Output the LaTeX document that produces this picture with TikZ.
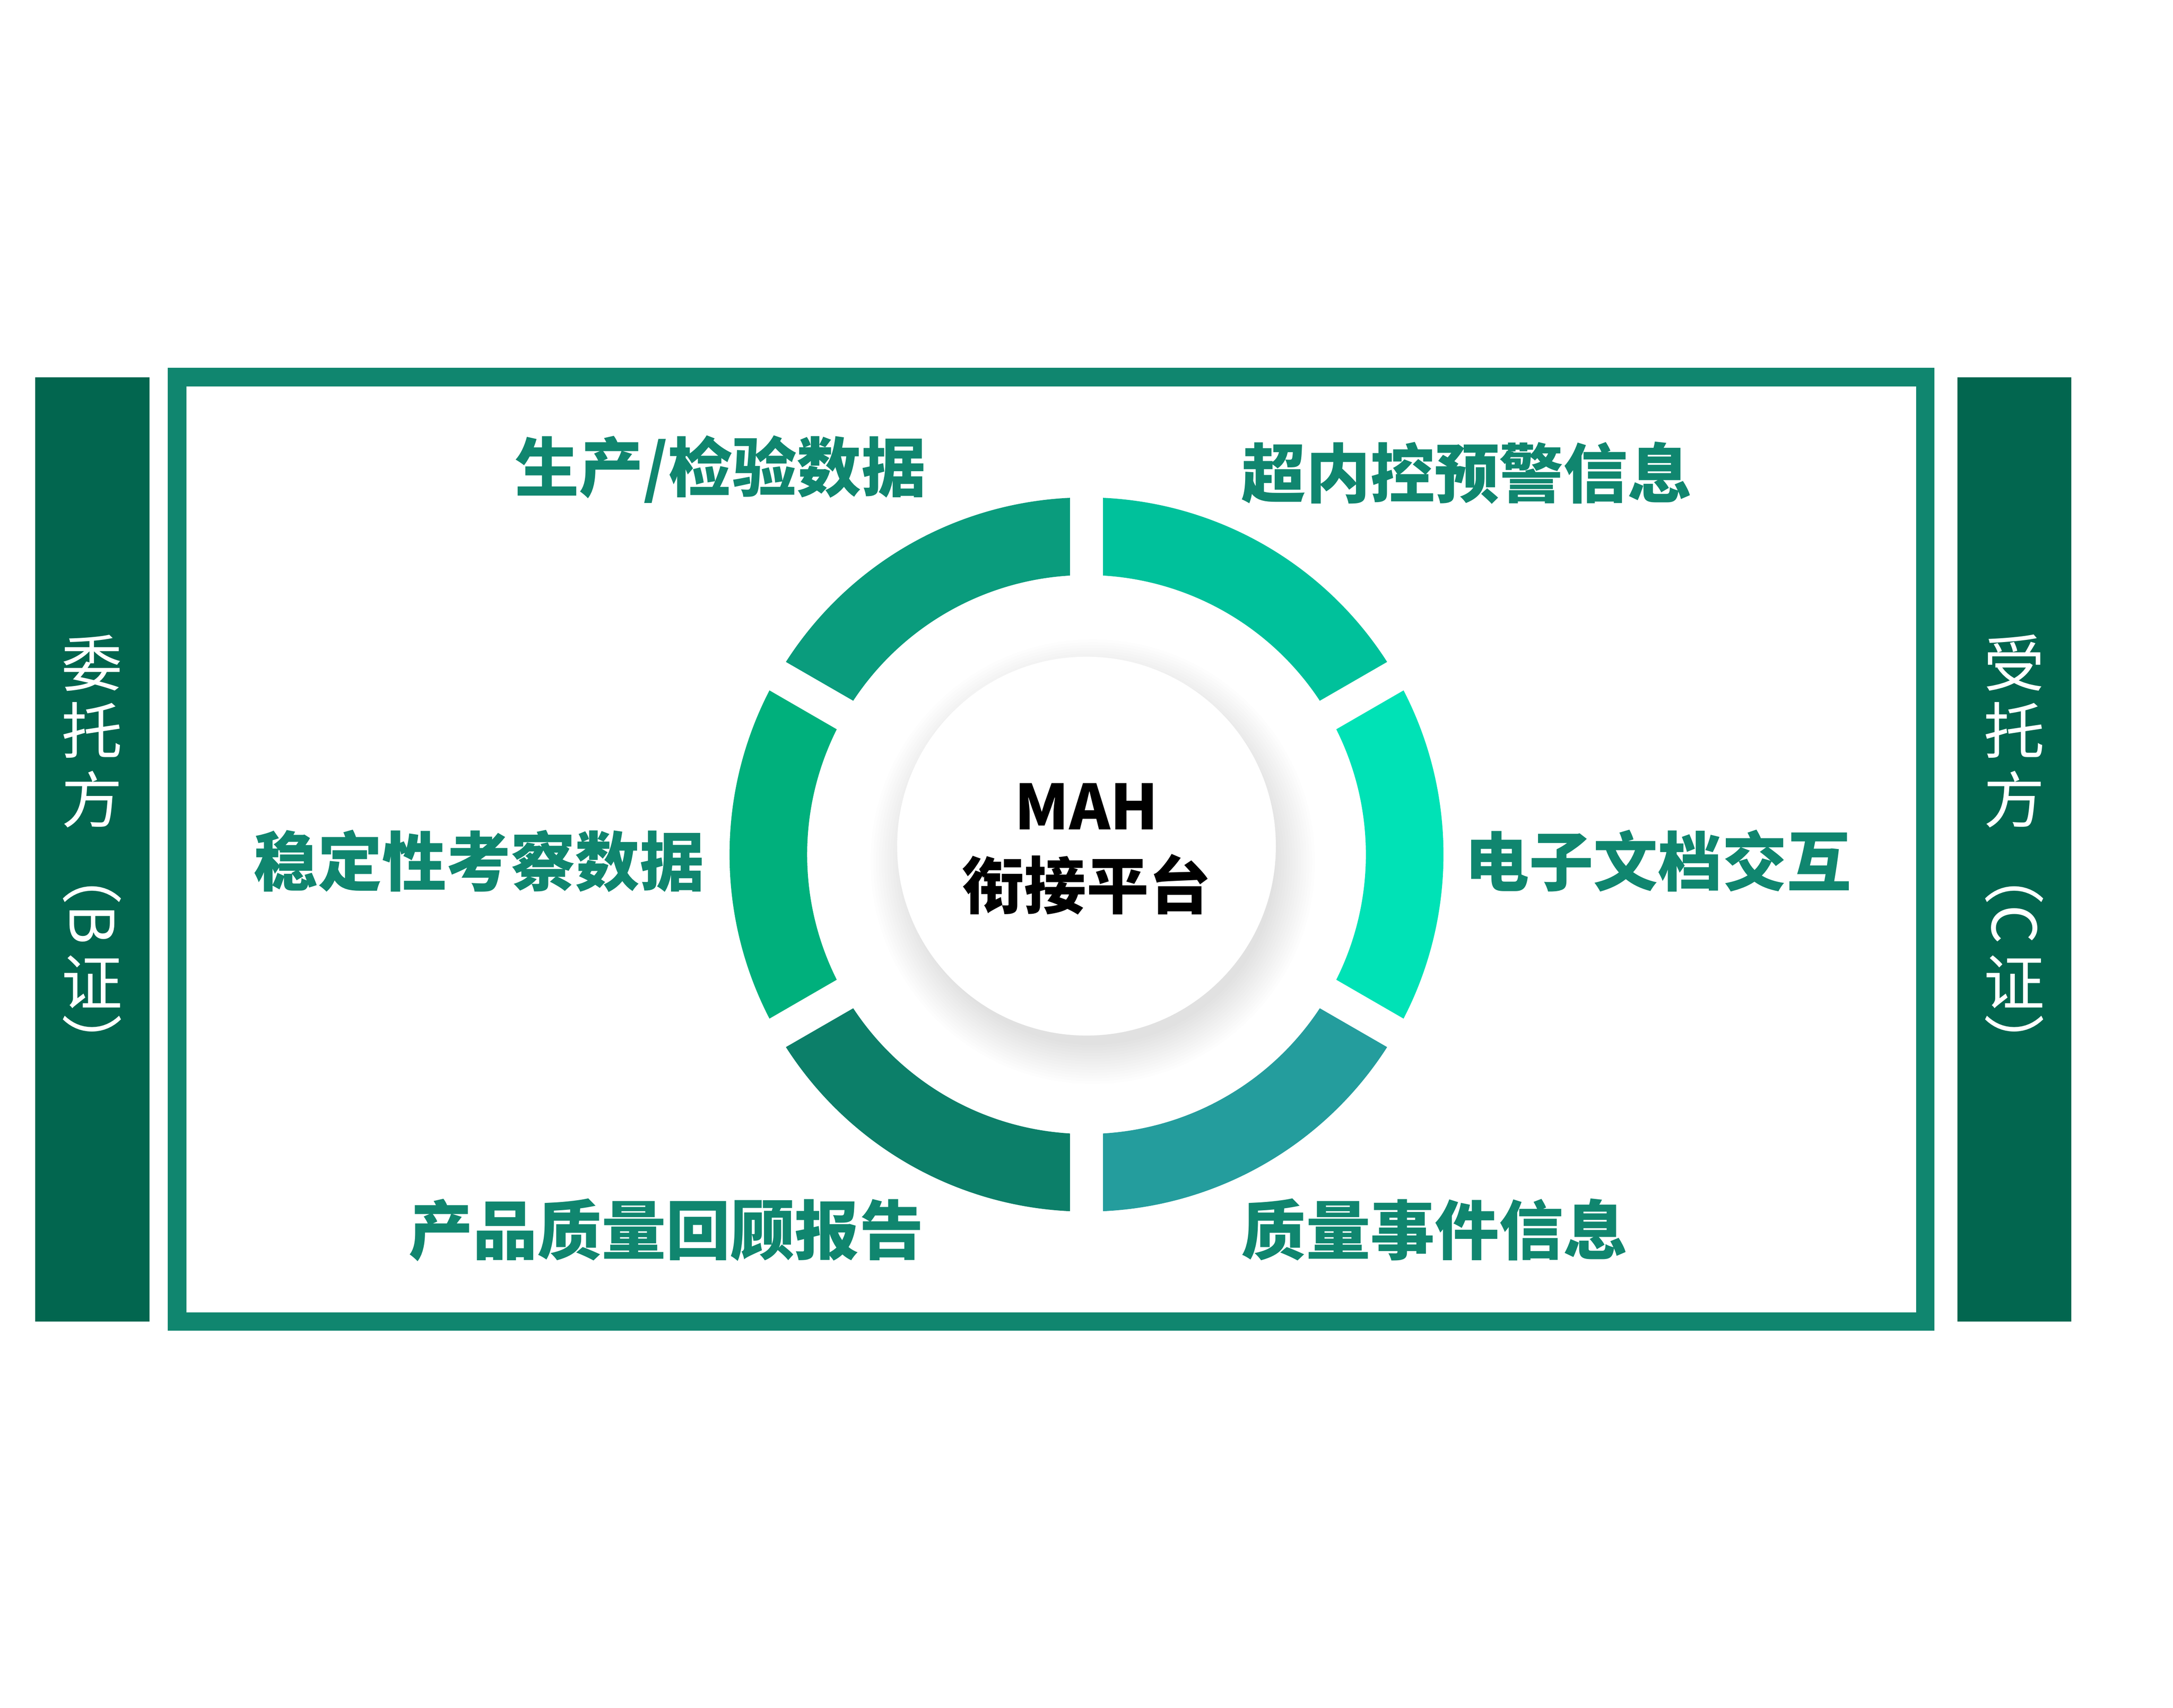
\documentclass[tikz,border=0pt]{standalone}
\usepackage{fontspec}
\newfontfamily\cjk{Noto Sans CJK SC}
\definecolor{frameGreen}{HTML}{10866F}
\definecolor{barGreen}{HTML}{02664F}
\definecolor{segTR}{HTML}{00C19B}
\definecolor{segTL}{HTML}{0A9C7D}
\definecolor{segL}{HTML}{00B07C}
\definecolor{segBL}{HTML}{0C7F69}
\definecolor{segBR}{HTML}{249D9D}
\definecolor{segR}{HTML}{00E2B6}
\tikzset{
  {side bar/.style} ={fill=barGreen, draw=none},
  {side text/.style} ={text=white, inner sep=0, font=\cjk\fontsize{56}{60}\selectfont},
  {item label/.style} ={text=frameGreen, inner sep=0, font=\cjk\bfseries\fontsize{59}{65}\selectfont},
  {hub text/.style} ={text=black, inner sep=0, font=\cjk\bfseries\fontsize{57}{62}\selectfont},
  {hub disc/.style} ={circle, fill=white, inner sep=0, minimum size=12.2cm},
}
\begin{document}
\begin{tikzpicture}
\useasboundingbox (0,0) rectangle (70,55);
% side bars and frame
\fill[side bar] (1.13,12.44) rectangle (4.81,42.85);
\fill[side bar] (63.05,12.44) rectangle (66.73,42.85);
\draw[frameGreen, line width=0.6cm] (5.70,12.44) rectangle (62.02,42.85);
% ring of six segments
\coordinate (ring) at (35,27.48);
\foreach \s/\c in {30/segTR, 90/segTL, 150/segL, 210/segBL, 270/segBR, 330/segR}
  \fill[\c] ([shift={(\s+2.64:11.5)}]ring) arc[start angle=\s+2.64, end angle=\s+57.36, radius=11.5]
     -- ([shift={(\s+56.62:9)}]ring) arc[start angle=\s+56.62, end angle=\s+3.38, radius=9] -- cycle;
% hub with soft shadow
\coordinate (hub) at (35,27.75);
\foreach \k in {0,...,14}
  \fill[black, opacity=0.009] ([shift={(0.2,-0.5)}]hub) circle ({5.9+0.09*\k});
\node[hub disc] (disc) at (hub) {};
\node[hub text, anchor=base] (mah) at (35,28.28) {MAH};
\node[hub text, anchor=base] (platform) at (35,25.73) {衔接平台};
% labels
\node[item label, anchor=base east] (prod) at (29.83,39.17) {生产/检验数据};
\node[item label, anchor=base west] (alert) at (39.99,38.98) {超内控预警信息};
\node[item label, anchor=base east] (stab) at (22.69,26.47) {稳定性考察数据};
\node[item label, anchor=base west] (edoc) at (47.18,26.47) {电子文档交互};
\node[item label, anchor=base east] (review) at (29.76,14.60) {产品质量回顾报告};
\node[item label, anchor=base west] (event) at (39.99,14.60) {质量事件信息};
% vertical texts
\foreach \x/\first/\letter/\nm in {2.97/委/B/client, 64.89/受/C/contractor} {
  \node[side text] (\nm-1) at (\x,33.65) {\first};
  \node[side text] (\nm-2) at (\x,31.49) {托};
  \node[side text] (\nm-3) at (\x,29.25) {方};
  \node[side text, rotate=-90] (\nm-4) at (\x,26.83) {（};
  \node[side text, rotate=-90] (\nm-5) at (\x,25.23) {\letter};
  \node[side text] (\nm-6) at (\x,23.37) {证};
  \node[side text, rotate=-90] (\nm-7) at (\x,21.39) {）};
}
\end{tikzpicture}
\end{document}
